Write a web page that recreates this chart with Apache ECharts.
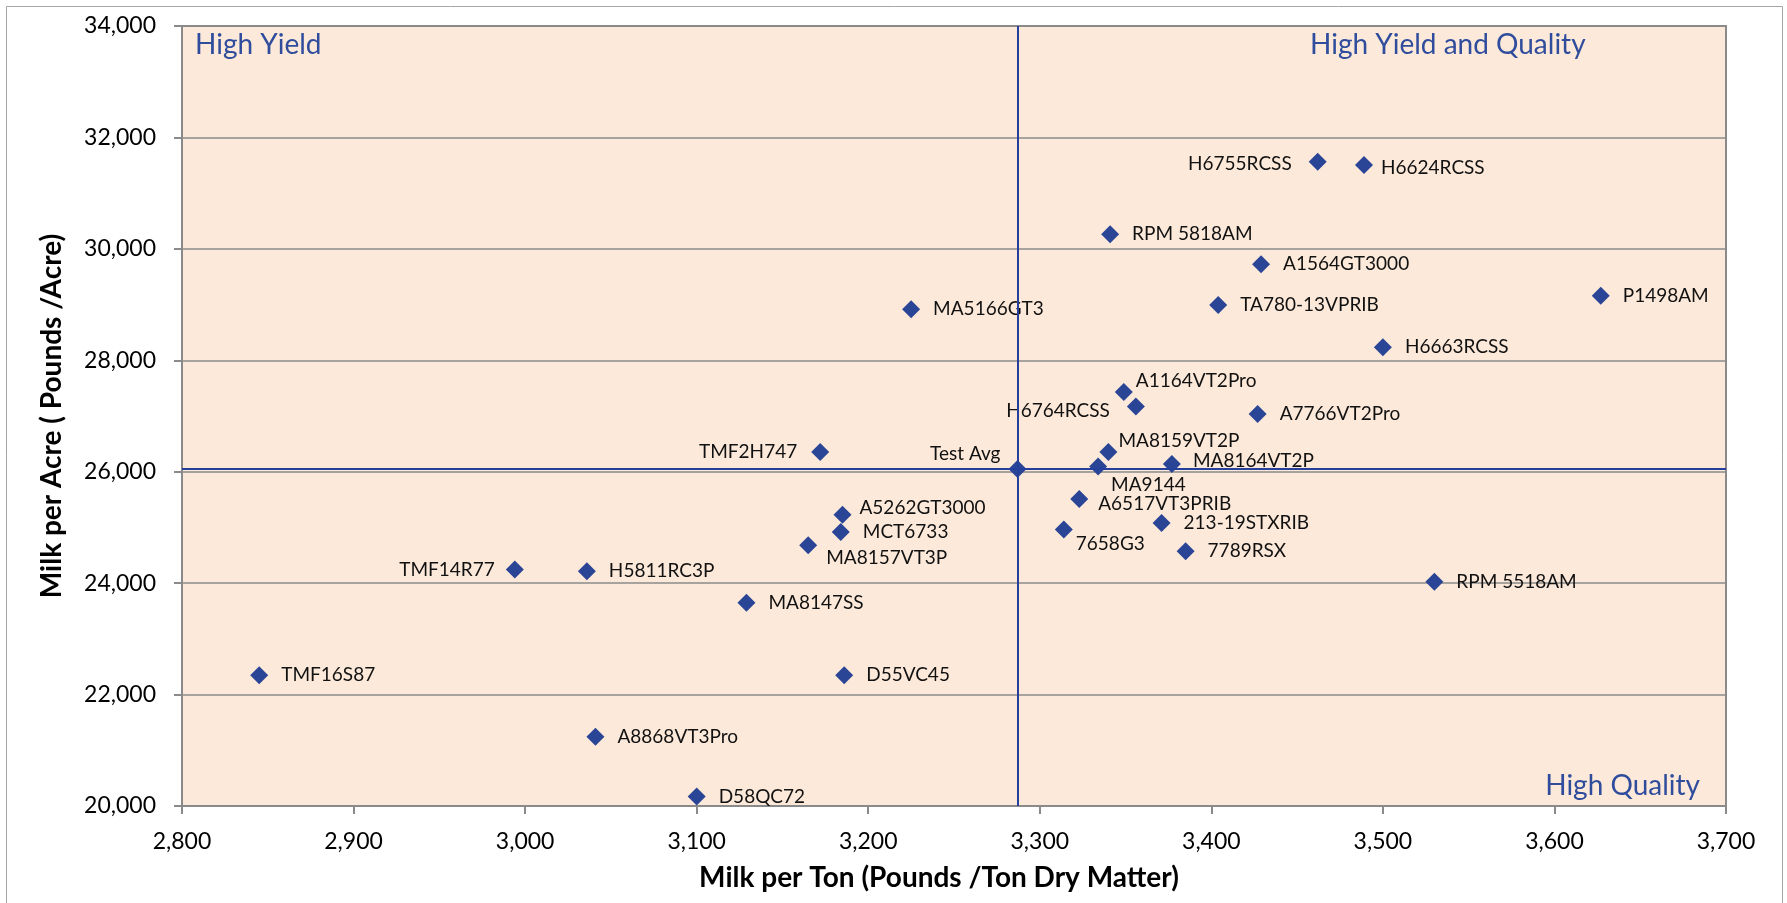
<!DOCTYPE html>
<html>
<head>
<meta charset="utf-8">
<title>Milk per Ton vs Milk per Acre</title>
<script src="https://cdn.jsdelivr.net/npm/echarts@6.0.0/dist/echarts.min.js"></script>
<style>
    html, body { margin: 0; padding: 0; background: #ffffff; }
    #milkchart { width: 1787px; height: 903px; }
</style>
</head>
<body>
<div id="milkchart"></div>
<script>
// hybrids
var hybridNames = [
    'H6755RCSS', 'H6624RCSS', 'RPM 5818AM', 'A1564GT3000', 'TA780-13VPRIB',
    'P1498AM', 'MA5166GT3', 'H6663RCSS', 'A1164VT2Pro', 'H6764RCSS',
    'A7766VT2Pro', 'MA8159VT2P', 'TMF2H747', 'MA9144', 'MA8164VT2P',
    'A6517VT3PRIB', 'A5262GT3000', '213-19STXRIB', 'MCT6733', '7658G3',
    'MA8157VT3P', '7789RSX', 'TMF14R77', 'H5811RC3P', 'RPM 5518AM',
    'MA8147SS', 'TMF16S87', 'D55VC45', 'A8868VT3Pro', 'D58QC72'
];
var milkPerTon = [
    3462, 3489, 3341, 3429, 3404,
    3627, 3225, 3500, 3349, 3356,
    3427, 3340, 3172, 3334, 3377,
    3323, 3185, 3371, 3184, 3314,
    3165, 3385, 2994, 3036, 3530,
    3129, 2845, 3186, 3041, 3100
];
var milkPerAcre = [
    31564, 31503, 30261, 29723, 28994,
    29160, 28917, 28235, 27429, 27171,
    27034, 26353, 26353, 26095, 26138,
    25511, 25229, 25080, 24919, 24961,
    24680, 24572, 24244, 24213, 24023,
    23647, 22349, 22349, 21245, 20170
];
var avgName = 'Test Avg';
var avgTon = 3287;
var avgAcre = 26050;

var xTicks = { min: 2800, max: 3700, step: 100 };
var yTicks = { min: 20000, max: 34000, step: 2000 };

// where each label sits next to its point: [position, dx, dy]
var labelPlace = {
    'H6755RCSS': ['left', -4, 2],
    'H6624RCSS': ['right', -5, 3],
    'H6764RCSS': ['left', -4, 4],
    'A1164VT2Pro': ['right', -10, -11],
    'MA8159VT2P': ['right', -12, -11],
    'MA9144': ['right', -9, 18],
    'MA8164VT2P': ['right', -1, -3],
    'A6517VT3PRIB': ['right', -3, 5],
    'A5262GT3000': ['right', -5, -7],
    '7658G3': ['right', -10, 14],
    'MA8157VT3P': ['right', -4, 13],
    'TMF14R77': ['left', 2, 0],
    'TMF2H747': ['left', -1, 0],
    'Test Avg': ['left', 5, -15]
};

var blue = '#2B4596';
var lineBlue = '#25409C';
var gray = '#8A8A8A';
var font = 'Lato, "Open Sans", sans-serif';

function placeOf(name) {
    return labelPlace[name] || ['right', 0, 0];
}

var points = [];
for (var i = 0; i < hybridNames.length; i++) {
    points.push({
        name: hybridNames[i],
        value: [milkPerTon[i], milkPerAcre[i]],
        label: { position: placeOf(hybridNames[i])[0] }
    });
}
points.push({
    name: avgName,
    value: [avgTon, avgAcre],
    label: { position: placeOf(avgName)[0] }
});

var gridL = 182, gridR = 61, gridT = 26, gridB = 97;

var chart = echarts.init(document.getElementById('milkchart'));
var option = {
    backgroundColor: '#FFFFFF',
    animation: false,
    textStyle: { fontFamily: font },
    grid: {
        left: gridL,
        right: gridR,
        top: gridT,
        bottom: gridB,
        show: true,
        backgroundColor: '#FCE9DA',
        borderColor: gray,
        borderWidth: 2,
        containLabel: false,
        outerBoundsMode: 'none'
    },
    xAxis: {
        type: 'value',
        min: xTicks.min,
        max: xTicks.max,
        interval: xTicks.step,
        name: 'Milk per Ton (Pounds /Ton Dry Matter)',
        nameLocation: 'middle',
        nameGap: 58,
        nameTextStyle: {
            fontFamily: font, fontSize: 28, fontWeight: 'bold', color: '#000',
            padding: [0, 30, 0, 0]
        },
        axisLine: { show: true, onZero: false, lineStyle: { color: gray, width: 2 } },
        axisTick: { show: true, length: 8, lineStyle: { color: gray, width: 2 } },
        axisLabel: {
            fontFamily: font, fontSize: 23, color: '#000', margin: 24,
            showMinLabel: true, showMaxLabel: true,
            formatter: function (v) { return v.toLocaleString('en-US'); }
        },
        splitLine: { show: false }
    },
    yAxis: {
        type: 'value',
        min: yTicks.min,
        max: yTicks.max,
        interval: yTicks.step,
        name: 'Milk per Acre ( Pounds /Acre)',
        nameLocation: 'middle',
        nameGap: 116,
        nameTextStyle: {
            fontFamily: font, fontSize: 28, fontWeight: 'bold', color: '#000'
        },
        axisLine: { show: true, onZero: false, lineStyle: { color: gray, width: 2 } },
        axisTick: { show: true, length: 8, lineStyle: { color: gray, width: 2 } },
        axisLabel: {
            fontFamily: font, fontSize: 23, color: '#000', margin: 26,
            showMinLabel: true, showMaxLabel: true,
            formatter: function (v) { return v.toLocaleString('en-US'); }
        },
        splitLine: { show: true, lineStyle: { color: gray, width: 1.5 } }
    },
    series: [
        {
            // test average cross-hair
            name: 'avg',
            type: 'scatter',
            data: [],
            z: 1,
            silent: true,
            markLine: {
                silent: true,
                symbol: 'none',
                animation: false,
                label: { show: false },
                lineStyle: { color: lineBlue, width: 2, type: 'solid' },
                data: [{ xAxis: avgTon }, { yAxis: avgAcre }]
            }
        },
        {
            name: 'hybrids',
            type: 'scatter',
            z: 3,
            symbol: 'diamond',
            symbolSize: 18,
            itemStyle: { color: blue, opacity: 1 },
            label: {
                show: true,
                distance: 13,
                fontFamily: font,
                fontSize: 19,
                color: '#111111',
                formatter: '{b}'
            },
            labelLayout: function (params) {
                var p = placeOf(points[params.dataIndex].name);
                return { dx: p[1], dy: p[2], hideOverlap: false };
            },
            data: points
        }
    ],
    graphic: [
        {
            type: 'rect',
            silent: true,
            shape: { x: 6.5, y: 6.5, width: 1776, height: 1000 },
            style: { fill: 'none', stroke: '#A6A6A6', lineWidth: 1 },
            z: 0
        },
        {
            type: 'text',
            left: gridL + 13,
            top: 31,
            style: { text: 'High Yield', fill: '#2F4D9C', font: '28px ' + font }
        },
        {
            type: 'text',
            left: 1310,
            top: 31,
            style: { text: 'High Yield and Quality', fill: '#2F4D9C', font: '28px ' + font }
        },
        {
            type: 'text',
            right: 1787 - 1700,
            top: 772,
            style: { text: 'High Quality', fill: '#2F4D9C', font: '28px ' + font }
        }
    ]
};
chart.setOption(option);
</script>
</body>
</html>
